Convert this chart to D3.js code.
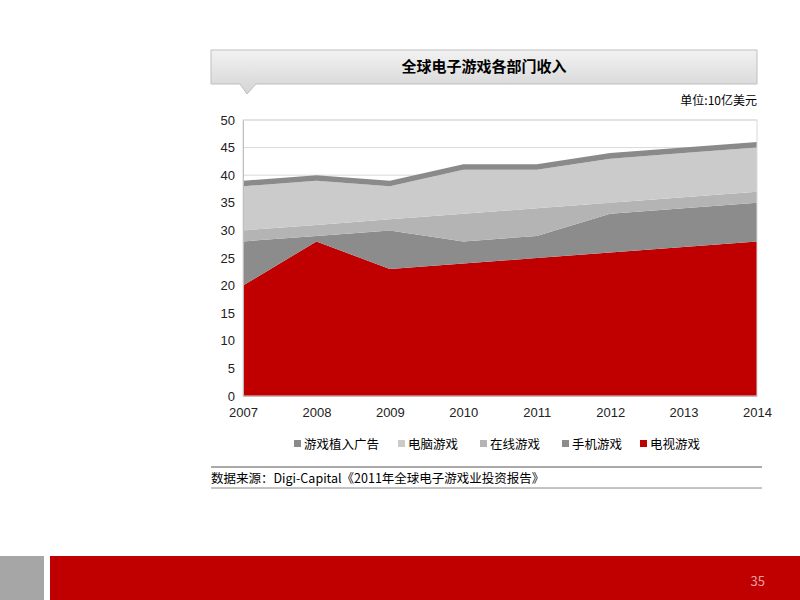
<!DOCTYPE html>
<html><head><meta charset="utf-8">
<script src="https://cdn.jsdelivr.net/npm/d3@7"></script>
<style>body{margin:0;background:#fff;font-family:"Noto Sans CJK SC","Noto Sans",sans-serif}</style>
</head><body>
<script>
// data (10亿美元), stacked bottom -> top
var years = [2007, 2008, 2009, 2010, 2011, 2012, 2013, 2014];
var tvGames     = [20, 28, 23, 24, 25, 26, 27, 28];
var mobileGames = [8, 1, 7, 4, 4, 7, 7, 7];
var onlineGames = [2, 2, 2, 5, 5, 2, 2, 2];
var pcGames     = [8, 8, 6, 8, 7, 8, 8, 8];
var adGames     = [1, 1, 1, 1, 1, 1, 1, 1];
var seriesNames = ["电视游戏", "手机游戏", "在线游戏", "电脑游戏", "游戏植入广告"];
var legendOrder = ["游戏植入广告", "电脑游戏", "在线游戏", "手机游戏", "电视游戏"];
var colors = {"电视游戏": "#c00000", "手机游戏": "#8c8c8c", "在线游戏": "#b4b4b4", "电脑游戏": "#cbcbcb", "游戏植入广告": "#8a8a8a"};

var table = years.map(function(y, i) {
  return {year: y, "电视游戏": tvGames[i], "手机游戏": mobileGames[i], "在线游戏": onlineGames[i], "电脑游戏": pcGames[i], "游戏植入广告": adGames[i]};
});

var svg = d3.select("body").append("svg").attr("width", 800).attr("height", 600);

// title banner
var defs = svg.append("defs");
var grad = defs.append("linearGradient").attr("id", "bg").attr("x1", 0).attr("y1", 0).attr("x2", 0).attr("y2", 1);
grad.append("stop").attr("offset", "0").attr("stop-color", "#f2f2f2");
grad.append("stop").attr("offset", "1").attr("stop-color", "#d4d4d4");
svg.append("path").attr("d", "M211,50 H757 V84 H256 L247,94 L240,84 H211 Z")
  .attr("fill", "url(#bg)").attr("stroke", "#bfbfbf");
svg.append("text").attr("x", 484).attr("y", 72).attr("text-anchor", "middle")
  .attr("font-size", 15).attr("font-weight", "bold").text("全球电子游戏各部门收入");
svg.append("text").attr("x", 757).attr("y", 105).attr("text-anchor", "end")
  .attr("font-size", 12).text("单位:10亿美元");

var x = d3.scaleLinear().domain([2007, 2014]).range([243, 757]);
var y = d3.scaleLinear().domain([0, 50]).range([396, 120]);

svg.append("g").selectAll("line").data(d3.range(5, 55, 5)).join("line")
  .attr("x1", 243).attr("x2", 757).attr("y1", y).attr("y2", y).attr("stroke", "#d9d9d9");

var stack = d3.stack().keys(seriesNames)(table);
var area = d3.area().x(function(d) { return x(d.data.year); })
  .y0(function(d) { return y(d[0]); }).y1(function(d) { return y(d[1]); });
svg.append("g").selectAll("path").data(stack).join("path")
  .attr("fill", function(d) { return colors[d.key]; }).attr("d", area);

svg.append("rect").attr("x", 243).attr("y", 120).attr("width", 514).attr("height", 276)
  .attr("fill", "none").attr("stroke", "#d9d9d9");

var yAxis = svg.append("g").attr("transform", "translate(243,0)")
  .call(d3.axisLeft(y).tickValues(d3.range(0, 55, 5)).tickSize(0).tickPadding(8));
var xAxis = svg.append("g").attr("transform", "translate(0,396)")
  .call(d3.axisBottom(x).tickValues(years).tickFormat(d3.format("d")).tickSize(0).tickPadding(12));
[xAxis, yAxis].forEach(function(a) {
  a.select(".domain").attr("stroke", "#bfbfbf");
  a.selectAll("text").attr("font-size", 13).attr("fill", "#222").attr("font-family", "Liberation Sans, sans-serif");
});

// legend
var lx = [294, 398, 480, 562, 640];
var lg = svg.append("g").selectAll("g").data(legendOrder).join("g")
  .attr("transform", function(d, i) { return "translate(" + lx[i] + ",444)"; });
lg.append("rect").attr("width", 7).attr("height", 7).attr("y", -4).attr("fill", function(d) { return colors[d]; });
lg.append("text").attr("x", 10).attr("y", 5).attr("font-size", 12.5).text(function(d) { return d; });

// source
svg.append("line").attr("x1", 211).attr("x2", 762).attr("y1", 467).attr("y2", 467).attr("stroke", "#555");
svg.append("line").attr("x1", 211).attr("x2", 762).attr("y1", 488).attr("y2", 488).attr("stroke", "#888");
svg.append("text").attr("x", 211).attr("y", 483).attr("font-size", 12.5)
  .text("数据来源：Digi-Capital《2011年全球电子游戏业投资报告》");

// footer
svg.append("rect").attr("x", 0).attr("y", 556).attr("width", 44).attr("height", 44).attr("fill", "#a6a6a6");
svg.append("rect").attr("x", 50).attr("y", 556).attr("width", 750).attr("height", 44).attr("fill", "#c00000");
svg.append("text").attr("x", 765).attr("y", 586).attr("text-anchor", "end").attr("font-size", 13)
  .attr("fill", "#e8a0a0").text("35");
</script>
</body></html>
